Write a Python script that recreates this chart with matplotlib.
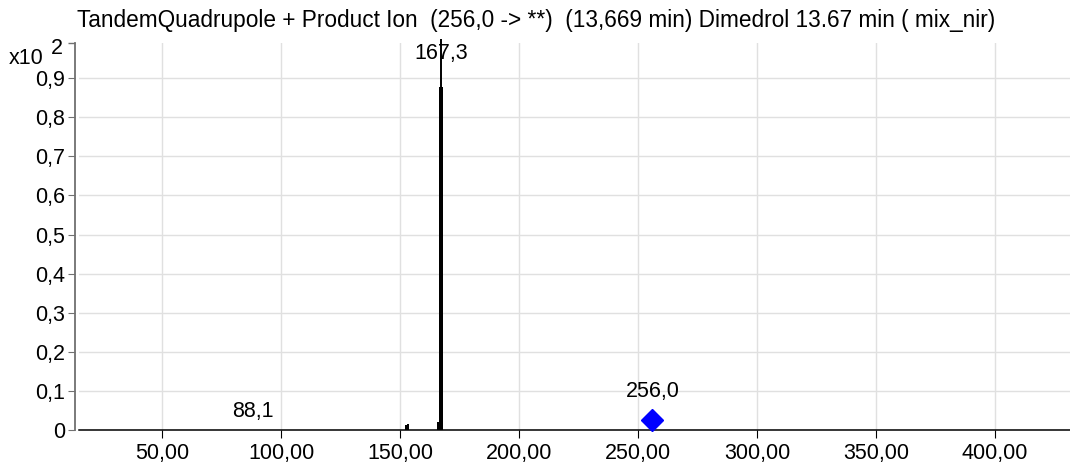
import matplotlib
matplotlib.use("Agg")
import matplotlib.pyplot as plt
from matplotlib.ticker import FuncFormatter

plt.rcParams["font.family"] = ["Liberation Sans", "DejaVu Sans"]

# product ion spectrum (intensity in units of x10^2)
peak_mz = [152.4, 153.1, 165.8, 166.4, 167.3]
peak_int = [0.013, 0.016, 0.021, 0.014, 0.877]
base_mz = 167.3
base_int = 1.0
minor_label_mz = 88.1
minor_label_int = 0.0
precursor_mz = 256.0
precursor_int = 0.026

title = "TandemQuadrupole + Product Ion  (256,0 -> **)  (13,669 min) Dimedrol 13.67 min ( mix_nir)"
yticks = [0, 0.1, 0.2, 0.3, 0.4, 0.5, 0.6, 0.7, 0.8, 0.9]
xticks = [50, 100, 150, 200, 250, 300, 350, 400]

FS = 15.5

fig = plt.figure(figsize=(10.7, 4.67), dpi=100)
ax = fig.add_axes([79 / 1070, 1 - 430 / 467, 1 - 79 / 1070, (430 - 43) / 467])

ax.set_xlim(15.0, 431.5)
ax.set_ylim(0, 0.99)

ax.bar(peak_mz, peak_int, width=[0.8, 0.8, 0.6, 0.6, 1.7], color="black", zorder=3)
ax.vlines(base_mz, 0, base_int, color="black", lw=1.4, zorder=3, clip_on=False)

ax.annotate("167,3", (base_mz, 0.935), ha="center", va="bottom", fontsize=FS, zorder=4)
ax.annotate("88,1", (minor_label_mz, minor_label_int), xytext=(0, 6), textcoords="offset points",
            ha="center", va="bottom", fontsize=FS)
ax.plot(precursor_mz, precursor_int, marker="D", color="#0000ff", ms=11, zorder=4, clip_on=False)
ax.annotate("256,0", (precursor_mz, precursor_int), xytext=(0, 13), textcoords="offset points",
            ha="center", va="bottom", fontsize=FS)

ax.set_xticks(xticks)
ax.set_yticks(yticks)
ax.xaxis.set_major_formatter(FuncFormatter(lambda v, p: f"{v:.2f}".replace(".", ",")))
ax.yaxis.set_major_formatter(FuncFormatter(lambda v, p: "0" if v == 0 else f"{v:.1f}".replace(".", ",")))
ax.set_yticks([0.99], minor=True)
ax.tick_params(axis="y", which="minor", length=5, color="#707070", width=1)
ax.tick_params(axis="both", labelsize=FS, colors="black")
ax.tick_params(axis="y", length=5, color="#707070", pad=2)
ax.tick_params(axis="x", length=6, color="black", pad=3)

ax.grid(True, which="major", color="#e0e0e0", lw=1)
ax.set_axisbelow(True)

for s in ["top", "right"]:
    ax.spines[s].set_visible(False)
ax.spines["left"].set_position(("outward", 3))
ax.spines["left"].set_color("#707070")
ax.spines["left"].set_linewidth(1.3)
ax.spines["bottom"].set_color("black")
ax.spines["bottom"].set_linewidth(1.1)

fig.text(536 / 1070, 1 - 20 / 467, title, ha="center", va="center", fontsize=16.3)
fig.text(9 / 1070, 1 - 58 / 467, "x10", ha="left", va="center", fontsize=FS)
fig.text(51 / 1070, 1 - 49 / 467, "2", ha="left", va="center", fontsize=FS)

fig.savefig("out.png", dpi=100)
